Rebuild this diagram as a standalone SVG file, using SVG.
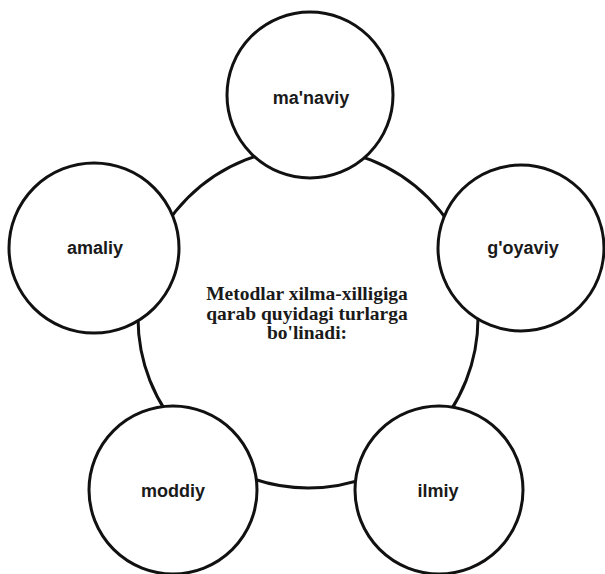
<svg xmlns="http://www.w3.org/2000/svg" width="605" height="574" viewBox="0 0 605 574">
<style>
.c{fill:#fff;stroke:#111;stroke-width:3}
.s{font-family:"Liberation Sans",Arial,sans-serif;font-weight:bold;font-size:18px;fill:#1a1a1a;text-anchor:middle}
.m{font-family:"Liberation Serif","Times New Roman",serif;font-weight:bold;font-size:19.5px;fill:#1a1a1a;text-anchor:middle}
</style>
<rect width="605" height="574" fill="#fff"/>
<g id="center">
<circle class="c" cx="308" cy="318" r="170"/>
<text class="m" x="307" y="300">Metodlar xilma-xilligiga</text>
<text class="m" x="307" y="320">qarab quyidagi turlarga</text>
<text class="m" x="307" y="339">bo'linadi:</text>
</g>
<g id="connectors"></g>
<g id="manaviy">
<circle class="c" cx="310" cy="95" r="83"/>
<text class="s" x="311" y="104">ma'naviy</text>
</g>
<g id="amaliy">
<circle class="c" cx="94" cy="248" r="85"/>
<text class="s" x="95" y="254">amaliy</text>
</g>
<g id="goyaviy">
<circle class="c" cx="521" cy="248" r="83"/>
<text class="s" x="523" y="254">g'oyaviy</text>
</g>
<g id="moddiy">
<circle class="c" cx="173" cy="490" r="84"/>
<text class="s" x="173" y="497">moddiy</text>
</g>
<g id="ilmiy">
<circle class="c" cx="439" cy="490" r="84"/>
<text class="s" x="438" y="497">ilmiy</text>
</g>
</svg>
